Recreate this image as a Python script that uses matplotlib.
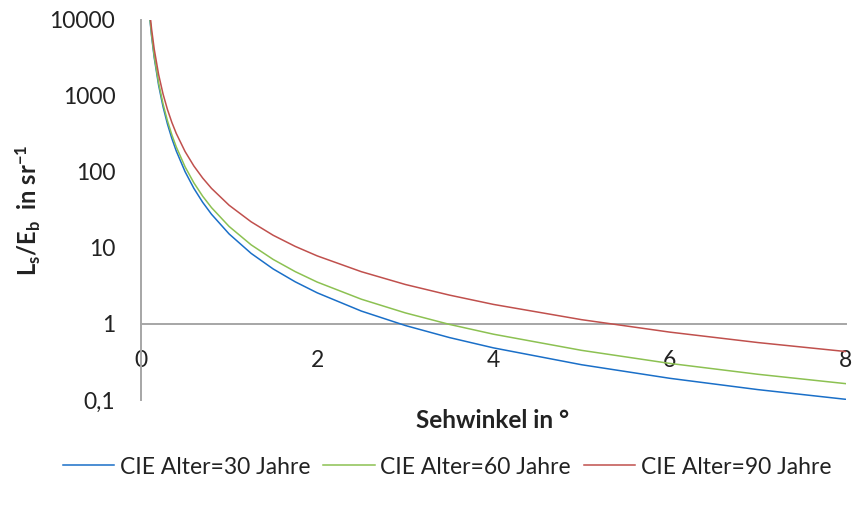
import matplotlib.pyplot as plt

# Sehwinkel in Grad und Schleierleuchtdichte-Verhaeltnis L_s/E_b (CIE)
winkel = [0.1, 0.12, 0.15, 0.2, 0.25, 0.3, 0.35, 0.4, 0.5, 0.6, 0.7, 0.8, 1.0,
          1.25, 1.5, 1.75, 2.0, 2.5, 3.0, 3.5, 4.0, 5.0, 6.0, 7.0, 8.0]
alter_30 = [10527, 6153, 3197, 1382, 724, 428.9, 276.2, 189.2, 101.1, 60.9,
            39.9, 27.8, 15.3, 8.49, 5.30, 3.59, 2.57, 1.48, 0.955, 0.663,
            0.485, 0.291, 0.193, 0.137, 0.102]
alter_60 = [10925, 6429, 3374, 1481, 788, 473.1, 308.7, 214.0, 117.0, 72.0,
            48.0, 34.0, 19.2, 11.0, 7.07, 4.89, 3.56, 2.12, 1.40, 0.988,
            0.734, 0.450, 0.303, 0.218, 0.164]
alter_90 = [12650, 7627, 4141, 1912, 1064, 664.8, 449.5, 321.9, 186, 119.9,
            83.2, 60.9, 36.5, 22.1, 14.7, 10.5, 7.87, 4.88, 3.31, 2.40,
            1.81, 1.14, 0.782, 0.570, 0.434]

y_ticks = [0.1, 1, 10, 100, 1000, 10000]
y_labels = ['0,1', '1', '10', '100', '1000', '10000']
x_ticks = [0, 2, 4, 6, 8]

plt.rcParams['font.family'] = ['Lato', 'DejaVu Sans']
plt.rcParams['mathtext.default'] = 'regular'

fig = plt.figure(figsize=(8.53, 5.08), dpi=100)
ax = fig.add_axes([141/853, 1 - 400/508, (846 - 141)/853, (400 - 20)/508])

ax.plot(winkel, alter_30, color='#1A6FC8', lw=1.1, label='CIE Alter=30 Jahre')
ax.plot(winkel, alter_60, color='#8CC152', lw=1.1, label='CIE Alter=60 Jahre')
ax.plot(winkel, alter_90, color='#C0504D', lw=1.1, label='CIE Alter=90 Jahre')

ax.set_yscale('log')
ax.set_ylim(0.1, 10000)
ax.set_xlim(0, 8)
ax.set_yticks(y_ticks)
ax.set_yticklabels(y_labels)
ax.minorticks_off()
ax.set_xticks(x_ticks)
ax.tick_params(axis='both', length=0, labelsize=16.5, colors='#222222')
ax.tick_params(axis='y', pad=18.5)
ax.tick_params(axis='x', pad=19)

for s in ['top', 'right']:
    ax.spines[s].set_visible(False)
ax.spines['bottom'].set_position(('data', 1))
ax.spines['bottom'].set_color('#A6A6A6')
ax.spines['left'].set_color('#A6A6A6')
ax.spines['bottom'].set_linewidth(1.4)
ax.spines['left'].set_linewidth(1.4)
ax.spines['bottom'].set_zorder(0)

fig.text(493/853, 1 - 421/508, 'Sehwinkel in °', ha='center', va='center',
         fontsize=17.5, fontweight='bold', color='#222222')
fig.text(28/853, 1 - 210/508, r'L$_{s}$/E$_{b}$  in sr$^{-1}$', ha='center',
         va='center', rotation=90, fontsize=17, fontweight='bold', color='#222222')

fig.legend(loc='center', bbox_to_anchor=(447/853, 1 - 467/508), ncol=3,
           frameon=False, fontsize=16.5, handlelength=2.25, handletextpad=0.25,
           columnspacing=0.55, labelcolor='#222222')

fig.savefig('out.png', dpi=100)
